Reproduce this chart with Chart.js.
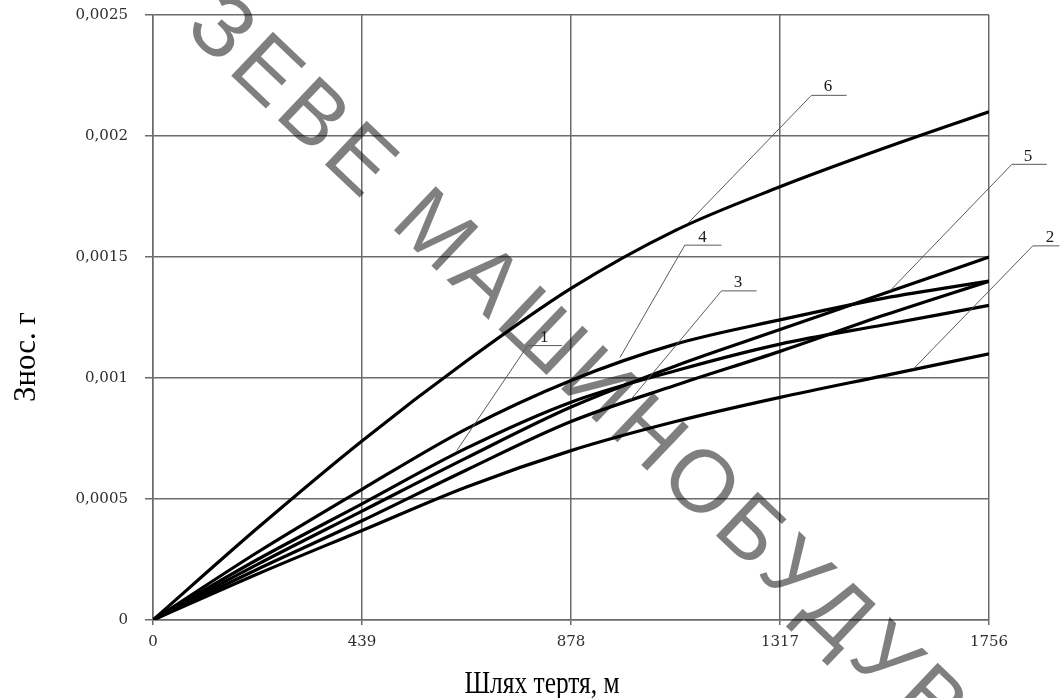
<!DOCTYPE html>
<html><head><meta charset="utf-8">
<script src="https://cdn.jsdelivr.net/npm/chart.js@4.4.1/dist/chart.umd.min.js"></script>
<style>html,body{margin:0;padding:0;background:#fff;}#wrap{width:1060px;height:698px;position:relative;}</style>
</head><body><div id="wrap"><canvas id="c" width="1060" height="698"></canvas></div>
<script>
// ---- data ----
const xValues = [0, 219.5, 439, 658.5, 878, 1097.5, 1317, 1536.5, 1756];
const curve1 = [0, 0.00025, 0.00048, 0.00071, 0.00090, 0.00103, 0.00114, 0.00122, 0.00130];
const curve2 = [0, 0.00019, 0.00037, 0.00055, 0.00070, 0.00082, 0.00092, 0.00101, 0.00110];
const curve3 = [0, 0.00021, 0.00041, 0.00062, 0.00082, 0.00097, 0.00111, 0.00126, 0.00140];
const curve4 = [0, 0.00028, 0.00054, 0.00079, 0.00099, 0.00114, 0.00124, 0.00133, 0.00140];
const curve5 = [0, 0.00023, 0.00045, 0.00067, 0.00088, 0.00105, 0.00120, 0.00135, 0.00150];
const curve6 = [0, 0.00038, 0.00074, 0.00107, 0.00137, 0.00161, 0.00179, 0.00195, 0.00210];
const curveNames = ['1', '2', '3', '4', '5', '6'];

const xTickValues = [0, 439, 878, 1317, 1756];
const xTickLabels = ['0', '439', '878', '1317', '1756'];
const yTickValues = [0, 0.0005, 0.001, 0.0015, 0.002, 0.0025];
const yTickLabels = ['0', '0,0005', '0,001', '0,0015', '0,002', '0,0025'];

const xTitle = 'Шлях тертя, м';
const yTitle = 'Знос. г';
const watermarkText = 'ЗЕВЕ МАШИНОБУДУВАННЯ';

// leader-line annotations (data units)
const leaderTipX   = [638, 1597, 1002, 981, 1548, 1124];
const leaderTipY   = [0.00070, 0.001037, 0.000907, 0.001085, 0.00136, 0.00164];
const leaderElbowX = [787, 1848, 1194, 1117, 1804, 1383];
const leaderElbowY = [0.001134, 0.001546, 0.00136, 0.001549, 0.001883, 0.002168];
const leaderEndX   = [859, 1904, 1268, 1194, 1877, 1457];
const labelX       = [822, 1884, 1229, 1154, 1838, 1418];
const labelY       = [0.001167, 0.00158, 0.001395, 0.00158, 0.001917, 0.002205];

// ---- chart ----
const series = [curve1, curve2, curve3, curve4, curve5, curve6];
const gridColor = '#6b6b6b';

const datasets = series.map((arr, i) => ({
  label: curveNames[i],
  data: xValues.map((x, j) => ({ x: x, y: arr[j] })),
  borderColor: '#000',
  borderWidth: 3.2,
  pointRadius: 0,
  fill: false,
  cubicInterpolationMode: 'monotone'
}));

const watermarkPlugin = {
  id: 'watermark',
  beforeDatasetsDraw(chart) {
    const ctx = chart.ctx;
    ctx.save();
    ctx.font = '88px "Liberation Sans"';
    try { ctx.letterSpacing = '6px'; } catch (e) {}
    ctx.fillStyle = 'rgba(0,0,0,0.5)';
    ctx.textBaseline = 'alphabetic';
    ctx.textAlign = 'left';
    ctx.translate(183, 30);
    ctx.rotate(43.5 * Math.PI / 180);
    ctx.fillText(watermarkText, 0, 0);
    ctx.restore();
  }
};

const leaderPlugin = {
  id: 'leaders',
  afterDatasetsDraw(chart) {
    const ctx = chart.ctx;
    const xs = chart.scales.x, ys = chart.scales.y;
    ctx.save();
    ctx.strokeStyle = '#5a5a5a';
    ctx.lineWidth = 1;
    ctx.fillStyle = '#1a1a1a';
    ctx.font = '17px "Liberation Serif"';
    ctx.textAlign = 'center';
    ctx.textBaseline = 'middle';
    for (let i = 0; i < curveNames.length; i++) {
      const tx = xs.getPixelForValue(leaderTipX[i]);
      const ty = ys.getPixelForValue(leaderTipY[i]);
      const ex = xs.getPixelForValue(leaderElbowX[i]);
      const ey = ys.getPixelForValue(leaderElbowY[i]);
      const nx = xs.getPixelForValue(leaderEndX[i]);
      ctx.beginPath();
      ctx.moveTo(tx, ty);
      ctx.lineTo(ex, ey);
      ctx.lineTo(nx, ey);
      ctx.stroke();
      ctx.fillText(curveNames[i], xs.getPixelForValue(labelX[i]), ys.getPixelForValue(labelY[i]));
    }
    ctx.restore();
  }
};

const titlePlugin = {
  id: 'axisTitles',
  afterDraw(chart) {
    const ctx = chart.ctx;
    ctx.save();
    ctx.fillStyle = '#000';
    ctx.textAlign = 'center';
    ctx.textBaseline = 'alphabetic';
    ctx.font = '31px "Liberation Serif"';
    let w = ctx.measureText(xTitle).width;
    ctx.save();
    ctx.translate(542, 693);
    ctx.scale(155 / w, 1);
    ctx.fillText(xTitle, 0, 0);
    ctx.restore();
    ctx.font = '32px "Liberation Serif"';
    w = ctx.measureText(yTitle).width;
    ctx.save();
    ctx.translate(35, 357);
    ctx.rotate(-Math.PI / 2);
    ctx.scale(90 / w, 1);
    ctx.fillText(yTitle, 0, 0);
    ctx.restore();
    ctx.restore();
  }
};

new Chart(document.getElementById('c'), {
  type: 'line',
  data: { datasets: datasets },
  options: {
    responsive: false,
    animation: false,
    devicePixelRatio: 1,
    layout: { padding: { left: 0, right: 71, top: 15, bottom: 0 } },
    plugins: { legend: { display: false }, tooltip: { enabled: false } },
    scales: {
      x: {
        type: 'linear',
        min: 0, max: 1756,
        afterBuildTicks: s => { s.ticks = xTickValues.map(v => ({ value: v })); },
        afterFit: s => { s.height = 78; },
        grid: { color: gridColor, lineWidth: 1.5, tickLength: 5, drawTicks: true },
        border: { color: gridColor, width: 1.5 },
        ticks: {
          autoSkip: false, maxRotation: 0, padding: 8,
          color: '#2e2e2e',
          font: { family: 'DejaVu Serif', size: 15 },
          callback: v => xTickLabels[xTickValues.indexOf(v)]
        }
      },
      y: {
        type: 'linear',
        min: 0, max: 0.0025,
        afterBuildTicks: s => { s.ticks = yTickValues.map(v => ({ value: v })); },
        afterFit: s => { s.width = 153; s.paddingTop = 0; s.paddingBottom = 0; },
        grid: { color: gridColor, lineWidth: 1.5, tickLength: 8, drawTicks: true },
        border: { color: gridColor, width: 1.5 },
        ticks: {
          padding: 17,
          color: '#2e2e2e',
          font: { family: 'DejaVu Serif', size: 15 },
          callback: v => yTickLabels[yTickValues.indexOf(v)]
        }
      }
    }
  },
  plugins: [watermarkPlugin, leaderPlugin, titlePlugin]
});
</script>
</body></html>
